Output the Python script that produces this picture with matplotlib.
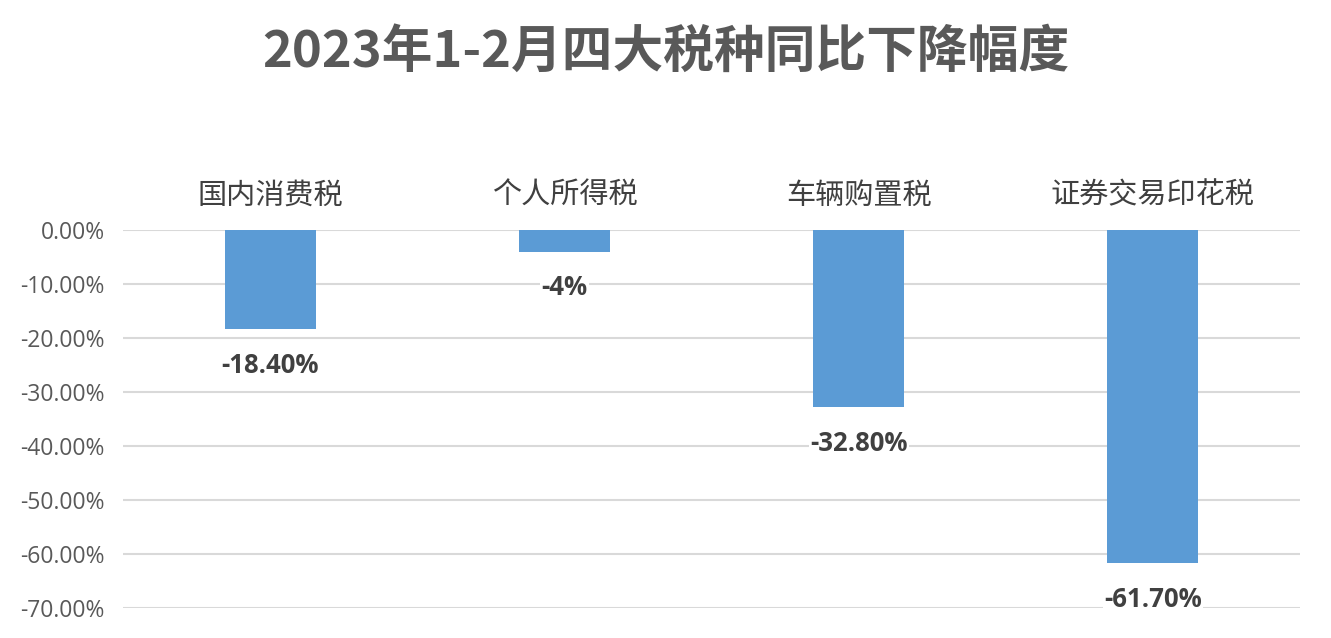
import matplotlib.pyplot as plt
from matplotlib.ticker import FuncFormatter

plt.rcParams['font.family'] = ['Noto Sans CJK SC', 'DejaVu Sans']

categories = ["国内消费税", "个人所得税", "车辆购置税", "证券交易印花税"]
values = [-18.40, -4, -32.80, -61.70]
labels = ["-18.40%", "-4%", "-32.80%", "-61.70%"]
yticks = [0, -10, -20, -30, -40, -50, -60, -70]

fig = plt.figure(figsize=(13.31, 6.38), dpi=100)
ax = fig.add_axes([0.0924, 0.047, 0.8843, 0.5925])

x = range(len(categories))
ax.bar(x, values, width=0.31, color="#5B9BD5", zorder=3)

ax.set_xlim(-0.5, 3.5)
ax.set_ylim(-70, 0)
ax.set_yticks(yticks)
ax.yaxis.set_major_formatter(FuncFormatter(lambda v, p: f"{v:.2f}%"))
ax.tick_params(axis="y", length=0, pad=13, labelsize=16.5, labelcolor="#595959")
for t in ax.get_yticklabels():
    t.set_family(["Open Sans", "DejaVu Sans"])
ax.grid(axis="y", color="#D9D9D9", linewidth=1.5, zorder=0)

ax.xaxis.tick_top()
ax.set_xticks(list(x))
ax.set_xticklabels(categories, fontsize=21, color="#404040")
ax.tick_params(axis="x", length=0, pad=14)

for s in ax.spines.values():
    s.set_visible(False)

for i, (v, lab) in enumerate(zip(values, labels)):
    ax.annotate(lab, (i, v), xytext=(0, -26), textcoords="offset points",
                ha="center", va="center", fontsize=18.5, fontweight="bold",
                color="#404040", family=["Open Sans", "DejaVu Sans"],
                bbox=dict(facecolor="white", edgecolor="none", pad=1),
                zorder=4, annotation_clip=False)

fig.text(0.5, 0.918, "2023年1-2月四大税种同比下降幅度", ha="center", va="center",
         fontsize=36.5, fontweight="bold", color="#595959")

fig.savefig("out.png", dpi=100)
